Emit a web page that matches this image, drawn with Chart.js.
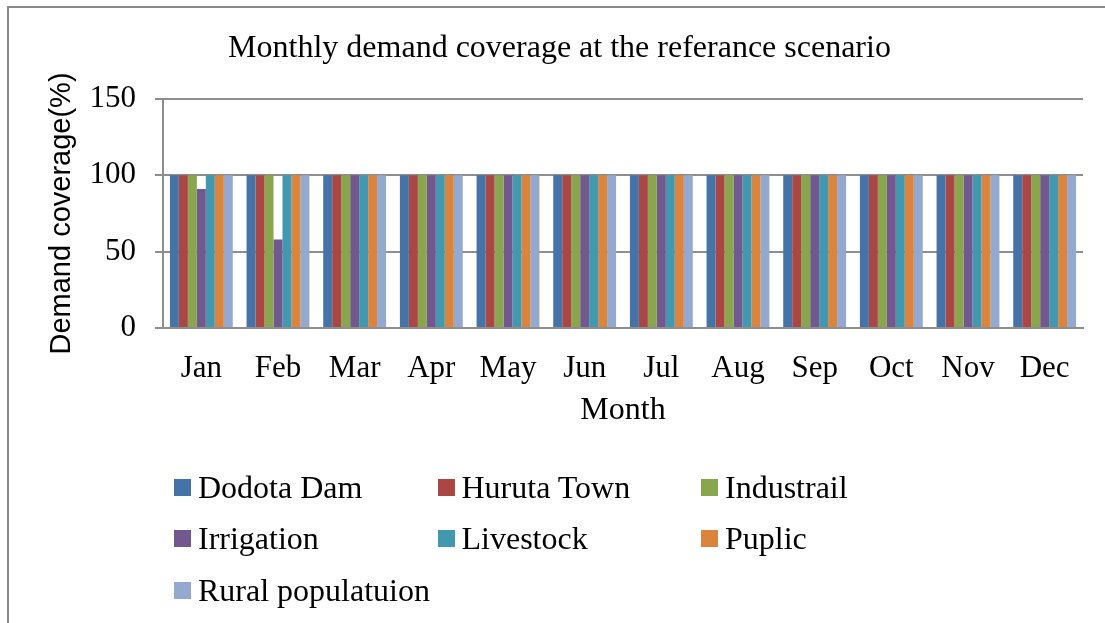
<!DOCTYPE html>
<html>
<head>
<meta charset="utf-8">
<script src="https://cdn.jsdelivr.net/npm/chart.js@4/dist/chart.umd.min.js"></script>
<style>
  html, body { margin: 0; padding: 0; background: #fff; overflow: hidden; }
  #wrap { position: relative; width: 1105px; height: 623px; }
  #frame { position: absolute; left: 7px; top: 6px; width: 1200px; height: 700px; border: 2px solid #8a8a8a; box-sizing: border-box; }
  #c { position: absolute; left: 0; top: 0; }
  .lg { position: absolute; display: flex; align-items: center; font-family: "Liberation Serif", "Times New Roman", serif; font-size: 32px; color: #000; white-space: nowrap; }
  .lg i { display: inline-block; width: 17px; height: 17px; margin-right: 7px; }
</style>
</head>
<body>
<div id="wrap">
  <div id="frame"></div>
  <canvas id="c" width="1105" height="623"></canvas>
  <div id="legend"></div>
</div>
<script>
const months = ["Jan","Feb","Mar","Apr","May","Jun","Jul","Aug","Sep","Oct","Nov","Dec"];
const seriesNames = ["Dodota Dam","Huruta Town","Industrail","Irrigation","Livestock","Puplic","Rural populatuion"];
const dodotaDam   = [100,100,100,100,100,100,100,100,100,100,100,100];
const hurutaTown  = [100,100,100,100,100,100,100,100,100,100,100,100];
const industrail  = [100,100,100,100,100,100,100,100,100,100,100,100];
const irrigation  = [91,58,100,100,100,100,100,100,100,100,100,100];
const livestock   = [100,100,100,100,100,100,100,100,100,100,100,100];
const puplic      = [100,100,100,100,100,100,100,100,100,100,100,100];
const ruralPop    = [100,100,100,100,100,100,100,100,100,100,100,100];
const yTicks = [0,50,100,150];
const colors = ["#4572A7","#AA4643","#89A54E","#71588F","#4198AF","#DB843D","#93A9CF"];

const seriesValues = [dodotaDam,hurutaTown,industrail,irrigation,livestock,puplic,ruralPop];
const serif = "'Liberation Serif', 'Times New Roman', serif";
const gridColor = "#8e8e8e";

new Chart(document.getElementById("c"), {
  type: "bar",
  data: {
    labels: months,
    datasets: seriesNames.map((n,i) => ({
      label: n, data: seriesValues[i], backgroundColor: colors[i],
      borderWidth: 0, categoryPercentage: 0.82, barPercentage: 1.0
    }))
  },
  options: {
    responsive: false, animation: false,
    layout: { padding: { left: 36, right: 22, top: 0, bottom: 193 } },
    plugins: {
      legend: { display: false },
      tooltip: { enabled: false },
      title: {
        display: true, text: "Monthly demand coverage at the referance scenario",
        color: "#000", font: { family: serif, size: 32, weight: "normal" },
        padding: { top: 29, bottom: 31.6 }
      }
    },
    scales: {
      x: {
        grid: { display: false, drawTicks: false, tickLength: 0 },
        border: { display: true, color: gridColor, width: 2 },
        ticks: { color: "#000", font: { family: serif, size: 31 }, padding: 22, maxRotation: 0, autoSkip: false },
        title: { display: true, text: "Month", color: "#000", font: { family: serif, size: 32 }, padding: { top: 0, bottom: 0 } },
        afterFit: s => { s.height = 102; }
      },
      y: {
        min: 0, max: 150,
        afterBuildTicks: s => { s.ticks = yTicks.map(v => ({ value: v })); },
        grid: { color: gridColor, lineWidth: 2, drawTicks: true, tickLength: 8, tickColor: gridColor },
        border: { display: true, color: gridColor, width: 2 },
        ticks: { color: "#000", font: { family: serif, size: 31 }, padding: 19 },
        title: { display: true, text: "Demand coverage(%)", color: "#000", font: { family: "'Liberation Sans', Arial, sans-serif", size: 29 }, padding: { top: 9, bottom: 0 } },
        afterFit: s => { s.width = 127; }
      }
    }
  }
});

const legend = document.getElementById("legend");
seriesNames.forEach((n, i) => {
  const col = i % 3, row = Math.floor(i / 3);
  const d = document.createElement("div");
  d.className = "lg";
  d.style.left = (174 + col * 263.5) + "px";
  d.style.top = (468 + row * 51.5) + "px";
  d.style.height = "38px";
  d.innerHTML = '<i style="background:' + colors[i] + '"></i>';
  d.appendChild(document.createTextNode(n));
  legend.appendChild(d);
});
</script>
</body>
</html>
